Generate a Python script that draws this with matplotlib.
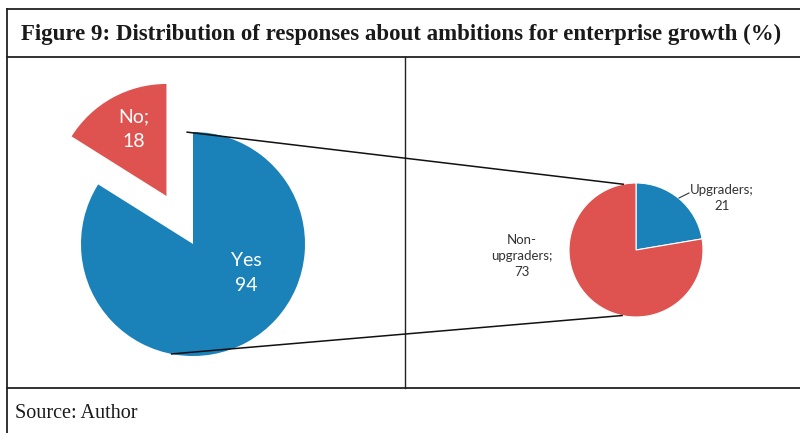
import numpy as np
import matplotlib
matplotlib.use("Agg")
import matplotlib.pyplot as plt

# Data
main_labels = ["Yes", "No"]
main_values = [94, 18]
sub_labels = ["Upgraders", "Non-upgraders"]
sub_values = [21, 73]
title = "Figure 9: Distribution of responses about ambitions for enterprise growth (%)"
source = "Source: Author"

BLUE = "#1a81b9"
RED = "#de5350"
W, H = 800, 433

fig = plt.figure(figsize=(8, 4.33), dpi=100)
ax = fig.add_axes([0, 0, 1, 1])
ax.set_xlim(0, W)
ax.set_ylim(0, H)
ax.axis("off")

def Y(y):
    return H - y

# Frame lines
lc = "#222222"
ax.plot([7, W], [Y(9), Y(9)], color=lc, lw=1.3)
ax.plot([7, W], [Y(57), Y(57)], color=lc, lw=1.3)
ax.plot([7, W], [Y(388), Y(388)], color=lc, lw=1.3)
ax.plot([7, 7], [Y(9), 0], color=lc, lw=1.3)
ax.plot([405, 405], [Y(57), Y(388)], color=lc, lw=1.0)

ax.text(401, Y(34), title, ha="center", va="center", fontsize=16.5,
        fontweight="bold", family="Liberation Serif", color="#1a1a1a")
ax.text(15, Y(413), source, ha="left", va="center", fontsize=14.5,
        family="Liberation Serif", color="#1a1a1a")

# Main pie
c1 = (193, Y(244)); r1 = 112
ax.pie(main_values, colors=[BLUE, RED], startangle=90, counterclock=False,
       explode=[0, 0.49 * r1], center=c1, radius=r1, frame=True,
       wedgeprops=dict(linewidth=0))
# Sub pie
c2 = (636, Y(250)); r2 = 67
ax.pie(sub_values, colors=[BLUE, RED], startangle=90, counterclock=False,
       center=c2, radius=r2, frame=True,
       wedgeprops=dict(linewidth=0.8, edgecolor="white"))
ax.set_xlim(0, W)
ax.set_ylim(0, H)
ax.set_aspect("auto")
ax.axis("off")

# Connector lines
def pt(c, r, ang):
    a = np.deg2rad(ang)
    return c[0] + r * np.cos(a), c[1] + r * np.sin(a)

p1 = pt(c1, r1, 93); p2 = pt(c2, r2, 101)
p3 = pt(c1, r1, 259); p4 = pt(c2, r2, 258)
ax.plot([p1[0], p2[0]], [p1[1], p2[1]], color="#111111", lw=1.1)
ax.plot([p3[0], p4[0]], [p3[1], p4[1]], color="#111111", lw=1.1)

big = dict(family=["Lato", "DejaVu Sans"], ha="center", va="center", linespacing=1.55, fontsize=14, color="white")
small = dict(family=["Lato", "DejaVu Sans"], ha="center", va="center", linespacing=1.45, fontsize=9.5, color="#333333")
ax.text(134, Y(129), f"{main_labels[1]};\n{main_values[1]}", **big)
ax.text(246, Y(273), f"{main_labels[0]}\n{main_values[0]}", **big)
ax.text(722, Y(198), f"{sub_labels[0]};\n{sub_values[0]}", **small)
ax.text(522, Y(256), "Non-\nupgraders;\n" + str(sub_values[1]), **small)
ax.plot([679, 689], [Y(198), Y(193)], color="#333333", lw=0.8)

fig.savefig("out.png", dpi=100)
